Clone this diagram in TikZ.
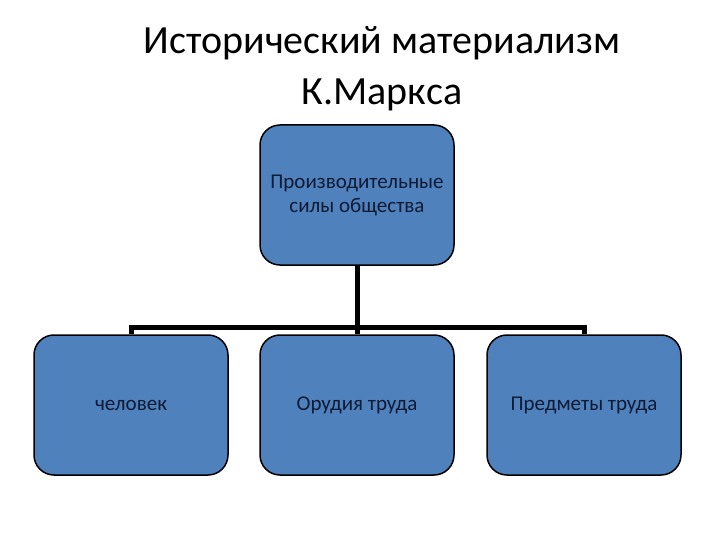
\documentclass[tikz,border=0pt]{standalone}
\usepackage{fontspec}
\setmainfont{Carlito}
\definecolor{boxblue}{HTML}{4F81BD}
\definecolor{boxtext}{HTML}{0F1A33}

\begin{document}
\begin{tikzpicture}[x=1pt, y=-1pt]

    %styles
    \tikzstyle{level}=[rectangle, rounded corners=20pt, draw=black, fill=boxblue, line width=1.5pt, minimum width=194pt, minimum height=140pt, text=boxtext, font=\fontsize{21}{24}\selectfont, align=center]
    \tikzstyle{bus}=[draw=black, line width=5pt]

    \useasboundingbox (0,0) rectangle (720,540);

    % nodes
    \node[align=center, font=\fontsize{40}{51}\selectfont] (title) at (382,69) {Исторический материализм\\К.Маркса};
    \node[level] (forces) at (357,195) {Производительные\\силы общества};
    \node[level] (man) at (131,405) {человек};
    \node[level] (tools) at (357,405) {Орудия труда};
    \node[level] (objects) at (584,405) {Предметы труда};
    \coordinate (rail) at (0,327);

    % lines
    \draw[bus] (forces.south) -- (tools.north);
    \draw[bus] (man.north) |- (tools.north |- rail) -| (objects.north);
\end{tikzpicture}
\end{document}
